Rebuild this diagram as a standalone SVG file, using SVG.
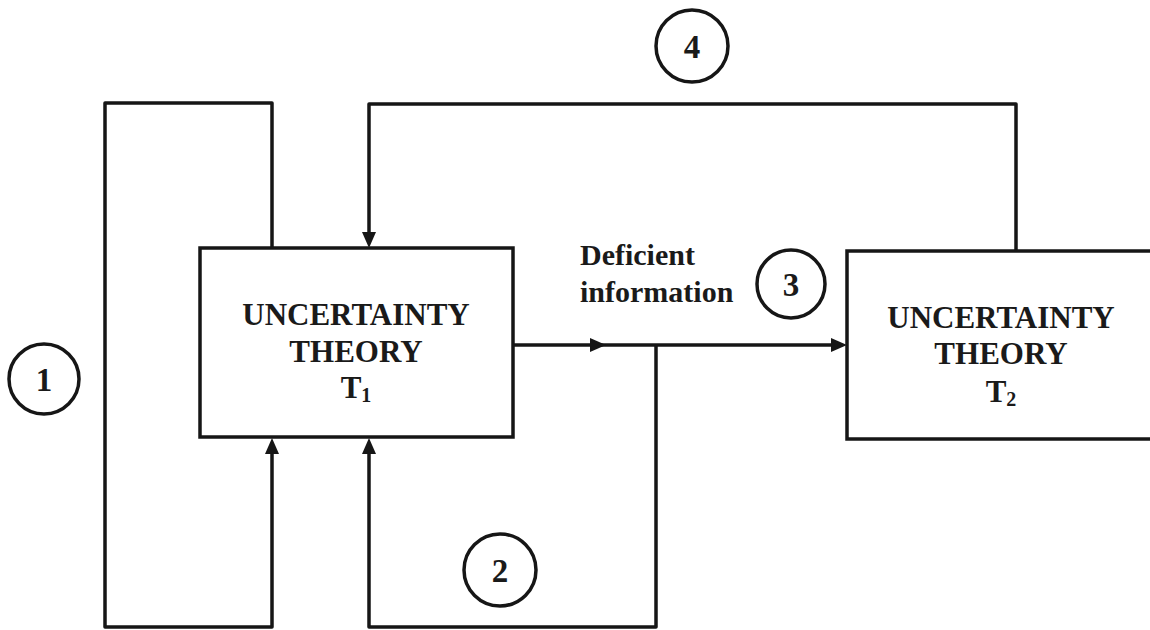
<svg xmlns="http://www.w3.org/2000/svg" width="1150" height="630" viewBox="0 0 1150 630">
  <style>
    .box { fill: #ffffff; stroke: #161616; stroke-width: 3.5; }
    .wire { fill: none; stroke: #161616; stroke-width: 3.5; stroke-linejoin: round; }
    .ring { fill: none; stroke: #161616; stroke-width: 3.5; }
    .title { font-weight: bold; font-size: 31px; fill: #1a1a1a; text-anchor: middle; }
    .note { font-weight: bold; font-size: 30px; fill: #1a1a1a; }
    .num { font-weight: bold; font-size: 33px; fill: #1a1a1a; text-anchor: middle; }
    .head { fill: #161616; }
  </style>
  <rect width="1150" height="630" fill="#ffffff"/>

  <!-- feedback and information paths -->
  <g id="connectors">
    <!-- loop 1: out of T1 top, round the left, back into T1 bottom -->
    <polyline class="wire" points="272,248 272,103 105,103 105,627 272,627 272,452"/>
    <polygon class="head" points="272,438 265,454 279,454"/>
    <!-- loop 4: out of T2 top, back into T1 top -->
    <polyline class="wire" points="1016,251 1016,104 369,104 369,234"/>
    <polygon class="head" points="369,248 362,232 376,232"/>
    <!-- main path T1 -> T2 -->
    <line class="wire" x1="513" y1="345" x2="834" y2="345"/>
    <polygon class="head" points="606,345 590,338 590,352"/>
    <polygon class="head" points="847,345 831,338 831,352"/>
    <!-- loop 2: branch off the main path, back into T1 bottom -->
    <polyline class="wire" points="656,345 656,627 369,627 369,452"/>
    <polygon class="head" points="369,438 362,454 376,454"/>
  </g>

  <g font-family="Liberation Serif, Times New Roman, serif">
    <g id="theory-t1">
      <rect class="box" x="200" y="248" width="313" height="189"/>
      <text class="title" x="356" y="325">UNCERTAINTY</text>
      <text class="title" x="356" y="362">THEORY</text>
      <text class="title" x="356" y="398">T<tspan font-size="20px" dy="4">1</tspan></text>
    </g>

    <g id="theory-t2">
      <rect class="box" x="847" y="251" width="320" height="188"/>
      <text class="title" x="1001" y="328">UNCERTAINTY</text>
      <text class="title" x="1001" y="364">THEORY</text>
      <text class="title" x="1001" y="402">T<tspan font-size="20px" dy="4">2</tspan></text>
    </g>

    <g id="label-deficient">
      <text class="note" x="580" y="265">Deficient</text>
      <text class="note" x="580" y="302">information</text>
    </g>

    <g id="marker-1">
      <circle class="ring" cx="44" cy="379" r="35"/>
      <text class="num" x="44" y="391">1</text>
    </g>
    <g id="marker-2">
      <circle class="ring" cx="500" cy="570" r="36"/>
      <text class="num" x="500" y="582">2</text>
    </g>
    <g id="marker-3">
      <circle class="ring" cx="791" cy="284" r="34"/>
      <text class="num" x="791" y="296">3</text>
    </g>
    <g id="marker-4">
      <circle class="ring" cx="692" cy="46" r="36"/>
      <text class="num" x="692" y="58">4</text>
    </g>
  </g>
</svg>
